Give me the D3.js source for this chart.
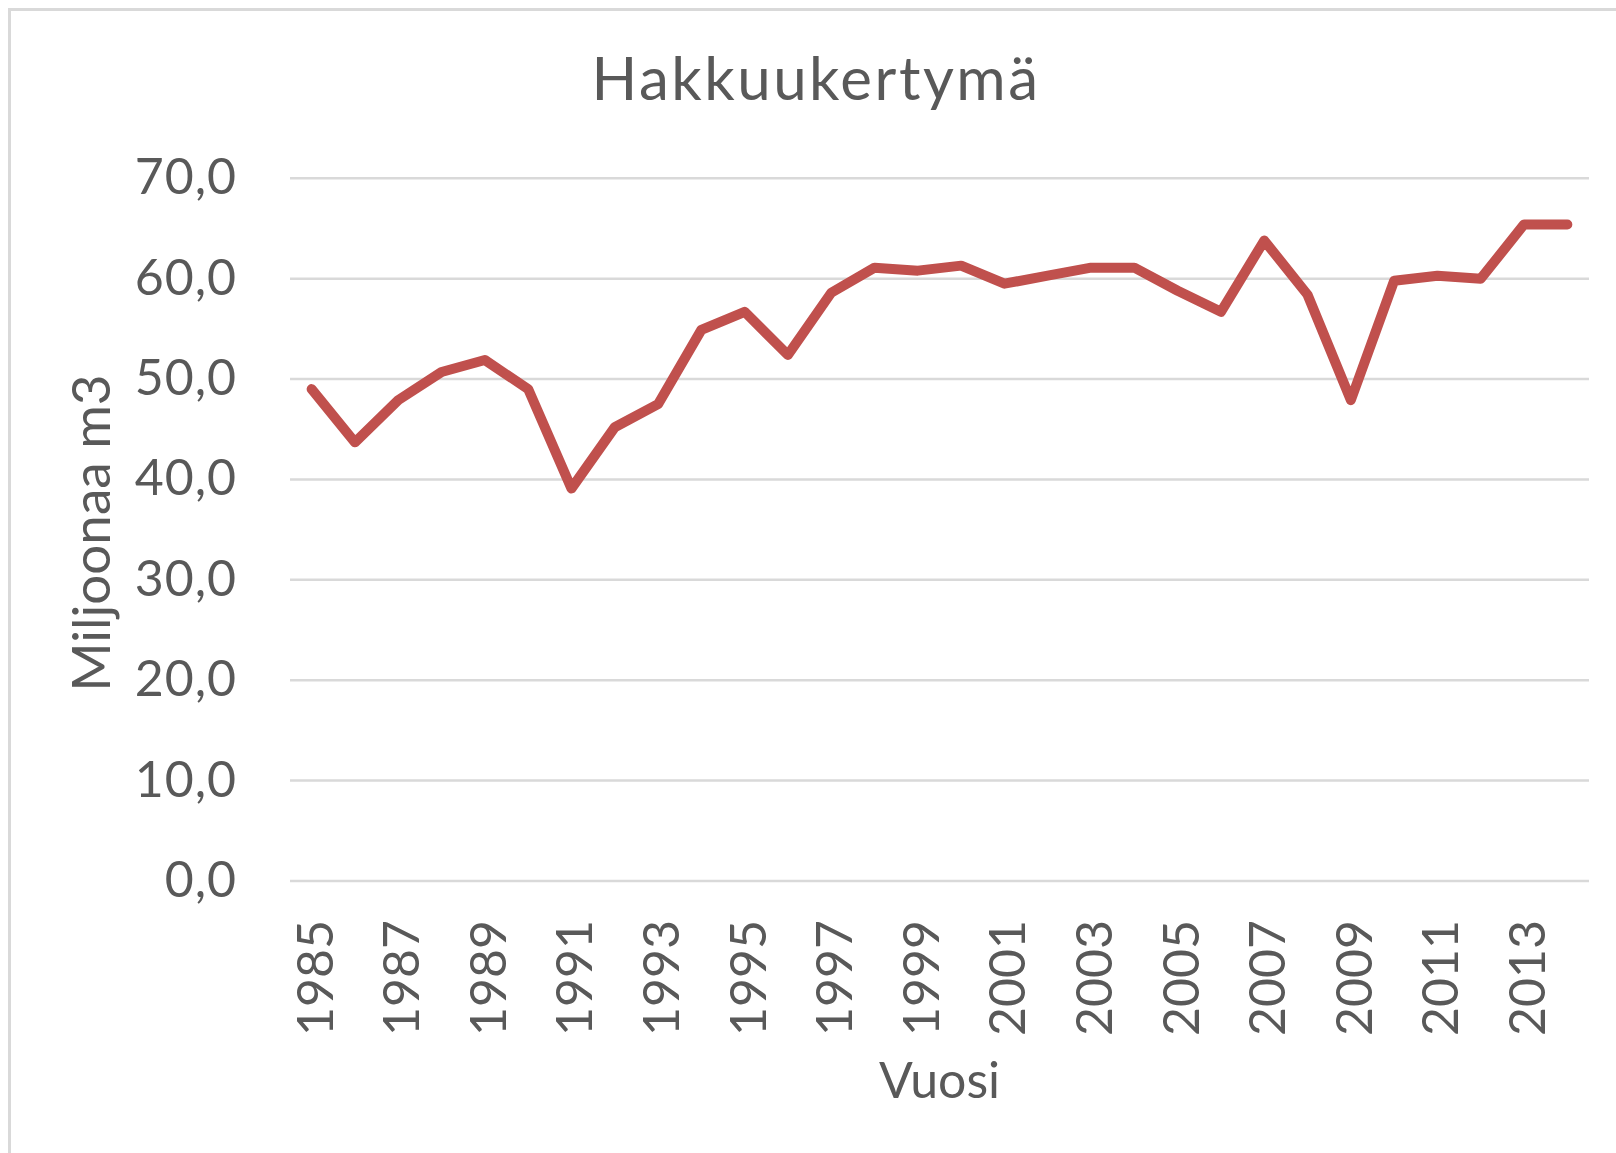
<!DOCTYPE html>
<html>
<head>
<meta charset="utf-8">
<script src="https://cdn.jsdelivr.net/npm/d3@7"></script>
<style>
    body { margin: 0; background: #fff; }
    svg { display: block; }
    text { font-family: Lato, "Open Sans", sans-serif; fill: #595959; }
</style>
</head>
<body>
<div id="chart"></div>
<script>

// data
let years = d3.range(1985, 2015);
let harvest = [49.0, 43.7, 47.9, 50.7, 51.9, 49.0, 39.1, 45.2, 47.5, 54.9,
               56.7, 52.4, 58.6, 61.1, 60.8, 61.3, 59.5, 60.3, 61.1, 61.1,
               58.8, 56.7, 63.8, 58.4, 47.9, 59.8, 60.3, 60.0, 65.4, 65.4];
let yTicks = [0, 10, 20, 30, 40, 50, 60, 70];
let xTickLabels = d3.range(1985, 2015, 2);
let chartTitle = "Hakkuukertymä";
let xTitle = "Vuosi";
let yTitle = "Miljoonaa m3";


class lineChart {

    constructor(parentElement) {
        this.parentElement = parentElement;
        this.initVis();
    }

    initVis() {
        let vis = this;
        vis.width = 1616;
        vis.height = 1153;
        vis.plot = {left: 290, right: 1589, top: 178.3, bottom: 881};

        vis.svg = d3.select("#" + vis.parentElement).append("svg")
            .attr("width", vis.width)
            .attr("height", vis.height);

        // chart area border
        vis.svg.append("rect")
            .attr("x", 9.5)
            .attr("y", 9.5)
            .attr("width", vis.width)
            .attr("height", vis.height)
            .attr("fill", "none")
            .attr("stroke", "#d9d9d9")
            .attr("stroke-width", 3);

        vis.x = d3.scalePoint()
            .domain(years)
            .range([vis.plot.left, vis.plot.right])
            .padding(0.5);

        vis.y = d3.scaleLinear()
            .domain([0, 70])
            .range([vis.plot.bottom, vis.plot.top]);

        // gridlines
        vis.svg.selectAll(".grid")
            .data(yTicks).enter()
            .append("line")
            .attr("class", "grid")
            .attr("x1", vis.plot.left)
            .attr("x2", vis.plot.right)
            .attr("y1", d => vis.y(d))
            .attr("y2", d => vis.y(d))
            .attr("stroke", "#d9d9d9")
            .attr("stroke-width", 2.5);

        // y labels
        vis.svg.selectAll(".y-label")
            .data(yTicks).enter()
            .append("text")
            .attr("class", "y-label")
            .attr("text-anchor", "end")
            .attr("x", 237)
            .attr("y", d => vis.y(d) + 16)
            .style("font-size", "50px")
            .style("letter-spacing", "1px")
            .text(d => d3.format(".1f")(d).replace(".", ","));

        // x labels, rotated
        vis.svg.selectAll(".x-label")
            .data(xTickLabels).enter()
            .append("text")
            .attr("class", "x-label")
            .attr("text-anchor", "end")
            .attr("transform", d => "translate(" + (vis.x(d) + 21) + ",920) rotate(-90)")
            .style("font-size", "50px")
            .text(d => d);

        // line
        vis.line = d3.line()
            .x((d, i) => vis.x(years[i]))
            .y(d => vis.y(d));

        vis.svg.append("path")
            .datum(harvest)
            .attr("d", vis.line)
            .attr("fill", "none")
            .attr("stroke", "#c0504d")
            .attr("stroke-width", 10)
            .attr("stroke-linejoin", "round")
            .attr("stroke-linecap", "round");

        // titles
        vis.svg.append("text")
            .attr("text-anchor", "middle")
            .attr("x", 816)
            .attr("y", 100)
            .style("font-size", "60px")
            .style("letter-spacing", "2.5px")
            .text(chartTitle);

        vis.svg.append("text")
            .attr("text-anchor", "middle")
            .attr("x", (vis.plot.left + vis.plot.right) / 2)
            .attr("y", 1098)
            .style("font-size", "50px")
            .text(xTitle);

        vis.svg.append("text")
            .attr("text-anchor", "middle")
            .attr("transform", "translate(110,533) rotate(-90)")
            .style("font-size", "53px")
            .text(yTitle);
    }
}

new lineChart("chart");
</script>
</body>
</html>
